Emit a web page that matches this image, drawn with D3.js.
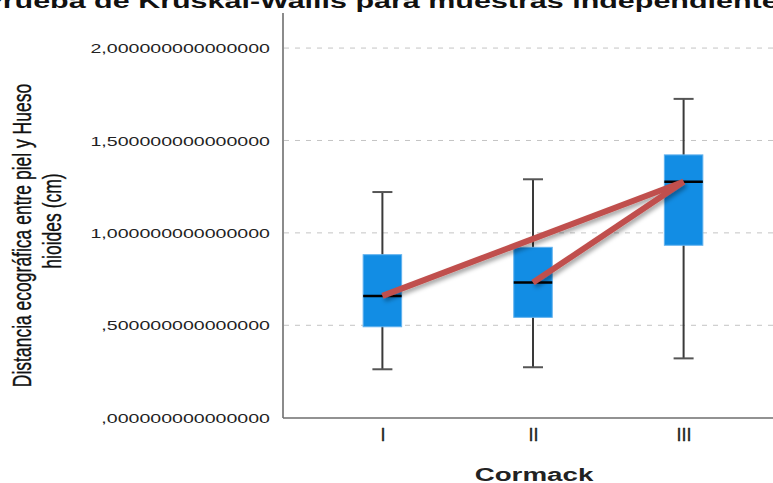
<!DOCTYPE html>
<html>
<head>
<meta charset="utf-8">
<script src="https://cdn.jsdelivr.net/npm/d3@7"></script>
<style>
  html, body { margin: 0; padding: 0; background: #fff; }
  svg { display: block; font-family: "Liberation Sans", Arial, sans-serif; }
</style>
</head>
<body>
<svg id="chart" width="773" height="483"></svg>
<script>
// Distance skin to hyoid bone (cm) by Cormack grade
const categories = ["I", "II", "III"];
const whiskerLow = [0.262, 0.273, 0.321];
const q1 = [0.492, 0.543, 0.933];
const median = [0.659, 0.731, 1.277];
const q3 = [0.882, 0.922, 1.422];
const whiskerHigh = [1.221, 1.290, 1.725];
const yTicks = [0, 0.5, 1.0, 1.5, 2.0];
const yTickLabels = [",000000000000000", ",500000000000000", "1,000000000000000", "1,500000000000000", "2,000000000000000"];
const gridValues = [0.5, 1.0, 1.5, 2.0];
// pairwise comparisons drawn between group medians
const pairs = [["I", "III"], ["II", "III"]];

const title = "Prueba de Kruskal-Wallis para muestras independientes";
const xTitle = "Cormack";
const yTitleLines = ["Distancia ecográfica entre piel y Hueso", "hioides (cm)"];

const SX = 1.48; // horizontal text stretch used throughout the figure

const svg = d3.select("#chart");
const plotLeft = 283, plotBottom = 418, plotTop = 13, plotRight = 783;

const x = d3.scalePoint().domain(categories).range([plotLeft, plotRight]).padding(0.66);
const y = d3.scaleLinear().domain([0, 2.2]).range([417.7, 11.1]);

const defs = svg.append("defs");
const f = defs.append("filter").attr("id", "shadow")
  .attr("x", "-10%").attr("y", "-30%").attr("width", "130%").attr("height", "180%");
f.append("feDropShadow").attr("dx", 2).attr("dy", 3).attr("stdDeviation", 2)
  .attr("flood-color", "#000").attr("flood-opacity", 0.35);

// title (partly above the frame)
svg.append("text")
  .attr("transform", `translate(389,8) scale(${SX},1)`)
  .attr("text-anchor", "middle")
  .attr("font-weight", "bold")
  .attr("font-size", 20.6)
  .attr("fill", "#111")
  .text(title);

// dashed grid lines
svg.append("g").selectAll("line").data(gridValues).join("line")
  .attr("x1", plotLeft + 1).attr("x2", 773)
  .attr("y1", d => y(d)).attr("y2", d => y(d))
  .attr("stroke", "#c4c4c4").attr("stroke-width", 1)
  .attr("stroke-dasharray", "5,6");

// y axis
const ySX = 1.5;
const yAxis = svg.append("g").attr("transform", `translate(${plotLeft},0)`)
  .call(d3.axisLeft(y).tickValues(yTicks).tickSize(0)
    .tickFormat((d, i) => yTickLabels[i]));
yAxis.select(".domain").remove();
yAxis.selectAll("text")
  .attr("x", -13 / ySX)
  .attr("dy", "0.36em")
  .attr("transform", `scale(${ySX},1)`)
  .attr("font-size", 13.05)
  .attr("font-family", "Liberation Sans, Arial, sans-serif")
  .attr("fill", "#222");

// x axis
const xAxis = svg.append("g").attr("transform", `translate(0,${plotBottom})`)
  .call(d3.axisBottom(x).tickSize(0));
xAxis.select(".domain").remove();
xAxis.selectAll("text")
  .attr("y", 23).attr("dy", 0)
  .attr("font-size", 18)
  .attr("font-family", "Liberation Sans, Arial, sans-serif")
  .attr("fill", "#222")
  .attr("stroke", "#222")
  .attr("stroke-width", 0.3);

// frame lines
svg.append("line").attr("x1", plotLeft).attr("x2", plotLeft).attr("y1", plotTop).attr("y2", plotBottom)
  .attr("stroke", "#6e6e6e").attr("stroke-width", 1.6);
svg.append("line").attr("x1", plotLeft).attr("x2", 773).attr("y1", plotBottom).attr("y2", plotBottom)
  .attr("stroke", "#6e6e6e").attr("stroke-width", 1.6);

// boxplots
const boxW = 38.5, capW = 20;
const groups = svg.append("g").selectAll("g").data(categories).join("g");
groups.append("line")
  .attr("x1", d => x(d)).attr("x2", d => x(d))
  .attr("y1", (d, i) => y(whiskerLow[i])).attr("y2", (d, i) => y(whiskerHigh[i]))
  .attr("stroke", "#3a3a3a").attr("stroke-width", 2);
groups.append("line")
  .attr("x1", d => x(d) - capW / 2).attr("x2", d => x(d) + capW / 2)
  .attr("y1", (d, i) => y(whiskerHigh[i])).attr("y2", (d, i) => y(whiskerHigh[i]))
  .attr("stroke", "#555").attr("stroke-width", 2);
groups.append("line")
  .attr("x1", d => x(d) - capW / 2).attr("x2", d => x(d) + capW / 2)
  .attr("y1", (d, i) => y(whiskerLow[i])).attr("y2", (d, i) => y(whiskerLow[i]))
  .attr("stroke", "#555").attr("stroke-width", 2);
groups.append("rect")
  .attr("x", d => x(d) - boxW / 2).attr("width", boxW)
  .attr("y", (d, i) => y(q3[i])).attr("height", (d, i) => y(q1[i]) - y(q3[i]))
  .attr("fill", "#128de4").attr("stroke", "#62b2ee").attr("stroke-width", 1);
groups.append("line")
  .attr("x1", d => x(d) - boxW / 2).attr("x2", d => x(d) + boxW / 2)
  .attr("y1", (d, i) => y(median[i])).attr("y2", (d, i) => y(median[i]))
  .attr("stroke", "#000").attr("stroke-width", 2.5);

// comparison lines
const idx = c => categories.indexOf(c);
svg.append("g").attr("filter", "url(#shadow)").selectAll("line").data(pairs).join("line")
  .attr("x1", p => x(p[0])).attr("y1", p => y(median[idx(p[0])]))
  .attr("x2", p => x(p[1])).attr("y2", p => y(median[idx(p[1])]))
  .attr("stroke", "#c0504d").attr("stroke-width", 6);

// axis titles
svg.append("text")
  .attr("transform", `translate(534,480.5) scale(1.5,1)`)
  .attr("text-anchor", "middle")
  .attr("font-weight", "bold")
  .attr("font-size", 18.5)
  .attr("fill", "#222")
  .text(xTitle);

const yTitleX = [30.5, 61];
const yTitleY = [235.5, 221];
svg.append("g").selectAll("text").data(yTitleLines).join("text")
  .attr("transform", (d, i) => `translate(${yTitleX[i]},${yTitleY[i]}) scale(${SX},1) rotate(-90)`)
  .attr("text-anchor", "middle")
  .attr("font-size", 17.5)
  .attr("fill", "#111")
  .attr("stroke", "#111")
  .attr("stroke-width", 0.25)
  .text(d => d);
</script>
</body>
</html>
